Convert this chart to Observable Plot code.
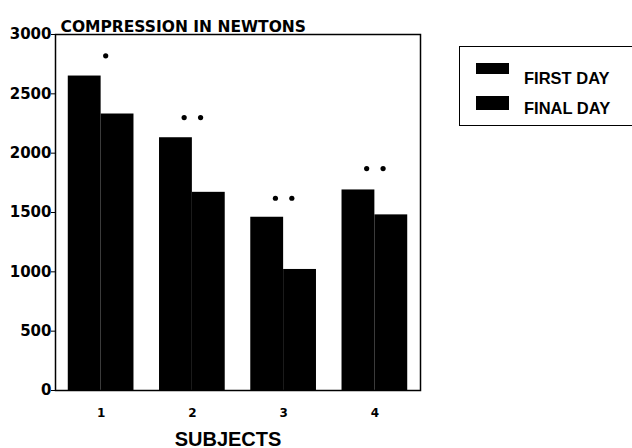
<!DOCTYPE html>
<html>
<head>
<meta charset="utf-8">
<script src="https://cdn.jsdelivr.net/npm/d3@7"></script>
<script src="https://cdn.jsdelivr.net/npm/@observablehq/plot@0.6"></script>
<style>
  html, body { margin: 0; padding: 0; background: white; overflow: hidden; }
  #wrap { position: relative; width: 632px; height: 448px; overflow: hidden; }
  #legend { position: absolute; left: 459px; top: 46px; width: 200px; height: 80px;
    border: 1.5px solid black; border-right: none; box-sizing: border-box;
    font-family: "Liberation Sans", Arial, sans-serif; font-weight: bold; font-size: 16.5px; }
  .sw { position: absolute; left: 16px; width: 33px; background: black; }
  .lab { position: absolute; left: 64px; line-height: 1; white-space: nowrap; }
</style>
</head>
<body>
<div id="wrap"></div>
<script>
const subjects = [1, 2, 3, 4];
const days = ["FIRST DAY", "FINAL DAY"];
const firstDay = [2650, 2130, 1460, 1690];
const finalDay = [2330, 1670, 1020, 1480];
const starCount = [1, 2, 2, 2];
const starLevel = [2820, 2300, 1620, 1870];
const yTicks = [0, 500, 1000, 1500, 2000, 2500, 3000];

const rows = [];
subjects.forEach((s, i) => {
  rows.push({subject: s, day: days[0], value: firstDay[i], side: -1});
  rows.push({subject: s, day: days[1], value: finalDay[i], side: 1});
});
const stars = [];
subjects.forEach((s, i) => {
  if (starCount[i] === 1) stars.push({subject: s, off: 0.05, y: starLevel[i]});
  else { stars.push({subject: s, off: -0.09, y: starLevel[i]}); stars.push({subject: s, off: 0.09, y: starLevel[i]}); }
});

const half = 0.36;
const font = "'DejaVu Sans', sans-serif";
const chart = Plot.plot({
  width: 632, height: 448,
  marginLeft: 55, marginRight: 212, marginTop: 34, marginBottom: 58,
  style: {fontFamily: font, fontWeight: "bold", background: "white"},
  x: {domain: [0.5, 4.5]},
  y: {domain: [0, 3000]},
  marks: [
    Plot.rectY(rows, {
      x1: d => d.side < 0 ? d.subject - half : d.subject,
      x2: d => d.side < 0 ? d.subject : d.subject + half,
      y1: 0, y2: "value", fill: "black"
    }),
    Plot.dot(stars, {x: d => d.subject + d.off, y: "y", r: 2.6, fill: "black", stroke: null}),
    Plot.frame({stroke: "black", strokeWidth: 1.5}),
    Plot.axisY({ticks: yTicks, tickFormat: d => String(d), tickSize: 4, tickPadding: 0, label: null,
      fontSize: 15, fontWeight: "bold", fontFamily: font}),
    Plot.axisX({ticks: subjects, tickFormat: d => String(d), tickSize: 0, tickPadding: 18, label: null,
      fontSize: 12, fontWeight: "bold", fontFamily: font}),
    Plot.text(["COMPRESSION IN NEWTONS"], {frameAnchor: "top-left", textAnchor: "start", lineAnchor: "bottom",
      dx: 5, dy: -3, fontSize: 15.5, fontWeight: "bold", fontFamily: font}),
    Plot.text(["SUBJECTS"], {frameAnchor: "bottom", lineAnchor: "bottom", dx: -10, dy: 55,
      fontSize: 20, fontWeight: "bold", fontFamily: "'Liberation Sans', Arial, sans-serif"})
  ]
});
const wrap = document.getElementById("wrap");
wrap.appendChild(chart);
const legend = document.createElement("div");
legend.id = "legend";
const swTop = [16, 49], swH = [11, 14], labTop = [23, 53];
days.forEach((d, i) => {
  const sw = document.createElement("div");
  sw.className = "sw";
  sw.style.top = swTop[i] + "px";
  sw.style.height = swH[i] + "px";
  legend.appendChild(sw);
  const lab = document.createElement("div");
  lab.className = "lab";
  lab.style.top = labTop[i] + "px";
  lab.textContent = d;
  legend.appendChild(lab);
});
wrap.appendChild(legend);
</script>
</body>
</html>
